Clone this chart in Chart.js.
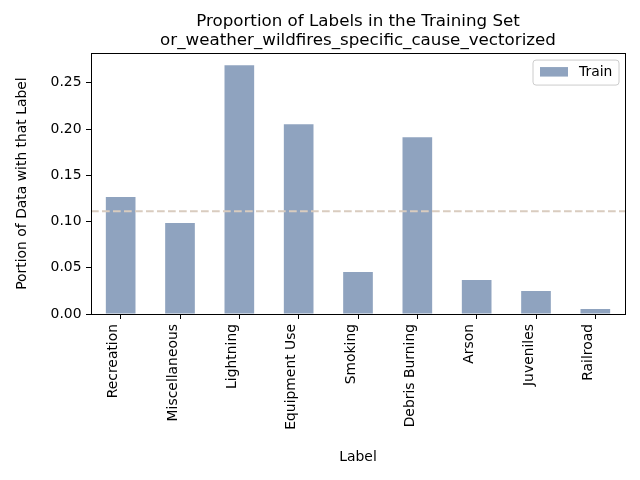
<!DOCTYPE html>
<html>
<head>
<meta charset="utf-8">
<script src="https://cdn.jsdelivr.net/npm/chart.js@4"></script>
<style>
  html, body { margin: 0; padding: 0; background: #fff; }
  #wrap { width: 640px; height: 480px; }
</style>
</head>
<body>
<div id="wrap"><canvas id="c" width="640" height="480"></canvas></div>
<script>
const categories = ["Recreation", "Miscellaneous", "Lightning", "Equipment Use", "Smoking", "Debris Burning", "Arson", "Juveniles", "Railroad"];
const trainValues = [0.1265, 0.0984, 0.2690, 0.2052, 0.0454, 0.1912, 0.0368, 0.0249, 0.0054];
const seriesLabel = "Train";
const expectedProportion = 0.1111;
const yTickStep = 0.05;
const yMax = 0.2822;
const titleLines = ["Proportion of Labels in the Training Set", "or_weather_wildfires_specific_cause_vectorized"];
const xAxisTitle = "Label";
const yAxisTitle = "Portion of Data with that Label";

const FONT = "'DejaVu Sans', sans-serif";
const barColor = "#8FA3BF";
const lineColor = "#D9CCBF";

const refLinePlugin = {
  id: 'refLine',
  afterDatasetsDraw(chart) {
    const {ctx, chartArea, scales} = chart;
    const y = scales.y.getPixelForValue(expectedProportion);
    ctx.save();
    ctx.strokeStyle = lineColor;
    ctx.lineWidth = 2;
    ctx.setLineDash([7.7, 3.3]);
    ctx.beginPath();
    ctx.moveTo(chartArea.left, y);
    ctx.lineTo(chartArea.right, y);
    ctx.stroke();
    ctx.restore();
  }
};

const framePlugin = {
  id: 'frame',
  afterDraw(chart) {
    const {ctx, chartArea} = chart;
    ctx.save();
    ctx.strokeStyle = '#000';
    ctx.lineWidth = 1;
    ctx.setLineDash([]);
    const l = Math.round(chartArea.left) + 0.5, r = Math.round(chartArea.right) + 0.5;
    const t = Math.round(chartArea.top) + 0.5, b = Math.round(chartArea.bottom) + 0.5;
    ctx.strokeRect(l, t, r - l, b - t);

    // legend
    const ds = chart.data.datasets[0];
    const bx1 = chartArea.right - 6, bx0 = bx1 - 86;
    const by0 = chartArea.top + 7, by1 = by0 + 25;
    ctx.beginPath();
    const rr = 3;
    ctx.moveTo(bx0 + rr, by0);
    ctx.arcTo(bx1, by0, bx1, by1, rr);
    ctx.arcTo(bx1, by1, bx0, by1, rr);
    ctx.arcTo(bx0, by1, bx0, by0, rr);
    ctx.arcTo(bx0, by0, bx1, by0, rr);
    ctx.closePath();
    ctx.fillStyle = 'rgba(255,255,255,0.8)';
    ctx.fill();
    ctx.strokeStyle = '#cccccc';
    ctx.stroke();
    ctx.fillStyle = ds.backgroundColor;
    ctx.fillRect(bx0 + 7, by0 + 7, 28, 9.5);
    ctx.fillStyle = '#000';
    ctx.font = "13.9px " + FONT;
    ctx.textBaseline = 'middle';
    ctx.textAlign = 'left';
    ctx.fillText(ds.label, bx0 + 46, by0 + 12);
    ctx.restore();
  }
};

new Chart(document.getElementById('c'), {
  type: 'bar',
  data: {
    labels: categories,
    datasets: [{
      label: seriesLabel,
      data: trainValues,
      backgroundColor: barColor,
      borderWidth: 0,
      barPercentage: 0.5,
      categoryPercentage: 1.0
    }]
  },
  options: {
    responsive: false,
    animation: false,
    devicePixelRatio: 1,
    layout: { padding: { left: 0, right: 15, top: 0, bottom: 0 } },
    plugins: {
      legend: { display: false },
      tooltip: { enabled: false },
      title: {
        display: true,
        fullSize: false,
        text: titleLines,
        color: '#000',
        font: { family: FONT, size: 16.7, weight: 'normal', lineHeight: 1.14 },
        padding: { top: 12, bottom: 3 }
      }
    },
    scales: {
      x: {
        offset: true,
        grid: { display: true, offset: false, drawOnChartArea: false, drawTicks: true, tickLength: 5, color: '#000' },
        border: { display: true, color: '#000' },
        ticks: {
          autoSkip: false, minRotation: 90, maxRotation: 90,
          color: '#000', padding: 5, labelOffset: -7,
          font: { family: FONT, size: 13.9 }
        },
        title: {
          display: true, text: xAxisTitle, color: '#000',
          font: { family: FONT, size: 13.9, lineHeight: 1.2 },
          padding: { top: 0, bottom: 14.7 }
        },
        afterFit(scale) { scale.height = 166; }
      },
      y: {
        min: 0, max: yMax,
        grid: { display: true, drawOnChartArea: false, drawTicks: true, tickLength: 5, color: '#000' },
        border: { display: true, color: '#000' },
        ticks: {
          stepSize: yTickStep, includeBounds: false,
          color: '#000', padding: 4.5,
          font: { family: FONT, size: 13.9 },
          callback: v => Number(v).toFixed(2)
        },
        title: {
          display: true, text: yAxisTitle, color: '#000',
          font: { family: FONT, size: 13.9, lineHeight: 1.2 },
          padding: { top: 13.7, bottom: 0 }
        },
        afterFit(scale) { scale.width = 91; }
      }
    }
  },
  plugins: [refLinePlugin, framePlugin]
});
</script>
</body>
</html>
